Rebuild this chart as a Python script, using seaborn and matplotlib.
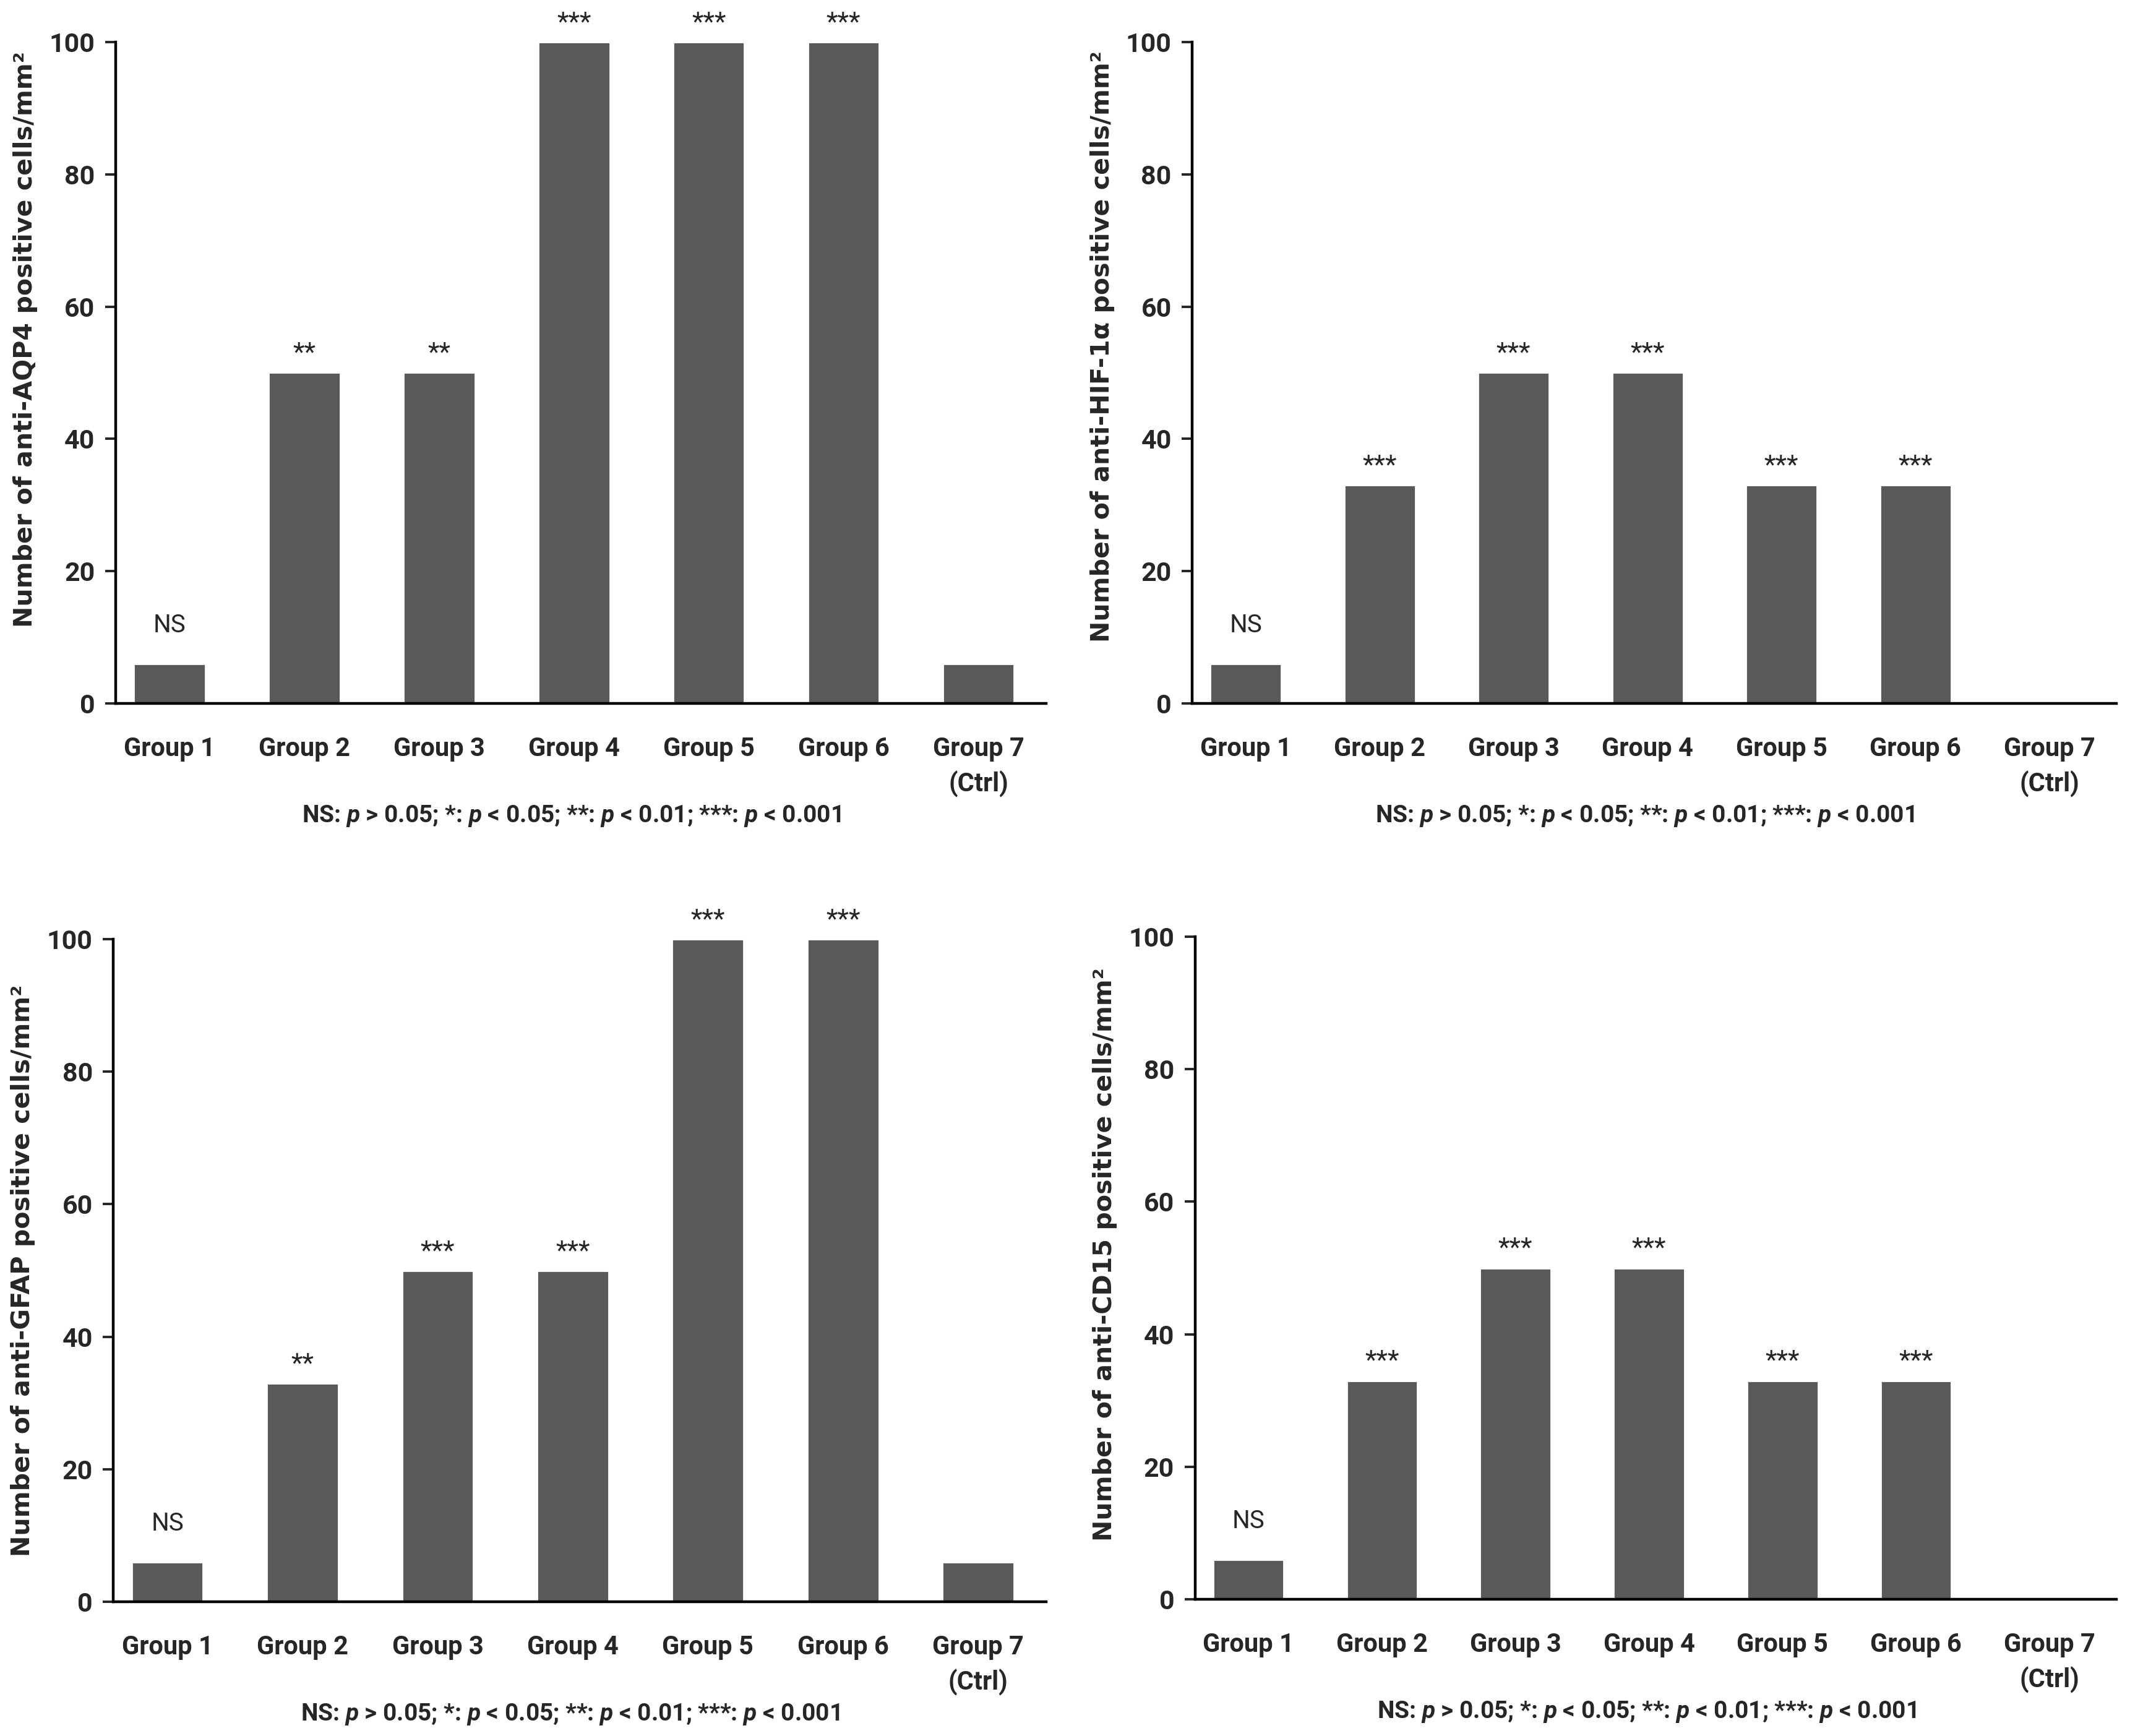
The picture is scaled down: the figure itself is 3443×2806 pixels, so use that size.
import matplotlib
matplotlib.use("Agg")
import matplotlib.pyplot as plt
import seaborn as sns
import pandas as pd

groups = ["Group 1", "Group 2", "Group 3", "Group 4", "Group 5", "Group 6", "Group 7\n(Ctrl)"]

aqp4_values = [6, 50, 50, 100, 100, 100, 6]
aqp4_marks = ["NS", "**", "**", "***", "***", "***", ""]

hif_values = [6, 33, 50, 50, 33, 33, 0]
hif_marks = ["NS", "***", "***", "***", "***", "***", ""]

gfap_values = [6, 33, 50, 50, 100, 100, 6]
gfap_marks = ["NS", "**", "***", "***", "***", "***", ""]

cd15_values = [6, 33, 50, 50, 33, 33, 0]
cd15_marks = ["NS", "***", "***", "***", "***", "***", ""]

ylabels = [
    "Number of anti-AQP4 positive cells/mm²",
    "Number of anti-HIF-1α positive cells/mm²",
    "Number of anti-GFAP positive cells/mm²",
    "Number of anti-CD15 positive cells/mm²",
]

footnote = r"NS: $p$ > 0.05; *: $p$ < 0.05; **: $p$ < 0.01; ***: $p$ < 0.001"

BAR_COLOR = "#595959"
NARROW = ["Roboto", "DejaVu Sans"]

sns.set_style("ticks")
plt.rcParams["font.family"] = NARROW
plt.rcParams["mathtext.fontset"] = "custom"
plt.rcParams["mathtext.it"] = "Roboto:italic:bold"
plt.rcParams["mathtext.rm"] = "Roboto:bold"
plt.rcParams["mathtext.bf"] = "Roboto:bold"

fig = plt.figure(figsize=(17.215, 14.03), dpi=200)

# axes rectangles: left, bottom, width, height (figure fraction)
rects = [
    [0.0543, 0.5948, 0.4367, 0.3810],
    [0.5597, 0.5948, 0.4339, 0.3810],
    [0.0532, 0.0773, 0.4378, 0.3817],
    [0.5610, 0.0788, 0.4326, 0.3816],
]

panels = [
    (aqp4_values, aqp4_marks, ylabels[0], 0.55),
    (hif_values, hif_marks, ylabels[1], 0.54),
    (gfap_values, gfap_marks, ylabels[2], 0.50),
    (cd15_values, cd15_marks, ylabels[3], 0.52),
]

for rect, (values, marks, ylabel, ly) in zip(rects, panels):
    ax = fig.add_axes(rect)
    df = pd.DataFrame({"Group": groups, "Value": values})
    sns.barplot(data=df, x="Group", y="Value", color=BAR_COLOR, width=0.53,
                saturation=1, ax=ax)

    for i, (v, m) in enumerate(zip(values, marks)):
        if not m:
            continue
        if m == "NS":
            ax.text(i, v + 4.0, m, ha="center", va="bottom", fontsize=14.5,
                    family=NARROW)
        else:
            ax.text(i, v + 1.0, m, ha="center", va="bottom", fontsize=15.5,
                    family=NARROW)

    ax.set_ylim(0, 100)
    ax.set_xlim(-0.4, 6.5)
    ax.set_yticks([0, 20, 40, 60, 80, 100])
    ax.set_xlabel("")
    ax.set_ylabel(ylabel, fontsize=14.8, fontweight="bold",
                  family=["DejaVu Sans"])
    ax.yaxis.set_label_coords(-0.084, ly)

    sns.despine(ax=ax)
    for side in ["left", "bottom"]:
        ax.spines[side].set_linewidth(1.6)
        ax.spines[side].set_color("black")

    ax.tick_params(axis="x", length=0, pad=19, labelsize=15)
    ax.tick_params(axis="y", length=6, width=1.4, pad=6, labelsize=15.5)
    for lbl in ax.get_xticklabels() + ax.get_yticklabels():
        lbl.set_fontweight("bold")
        lbl.set_family(NARROW)
    for lbl in ax.get_xticklabels():
        lbl.set_linespacing(1.45)

    ax.text(0.49, -0.17, footnote, transform=ax.transAxes, ha="center",
            va="center", fontsize=14, fontweight="bold", family=NARROW)

fig.savefig("out.png", dpi=200)
